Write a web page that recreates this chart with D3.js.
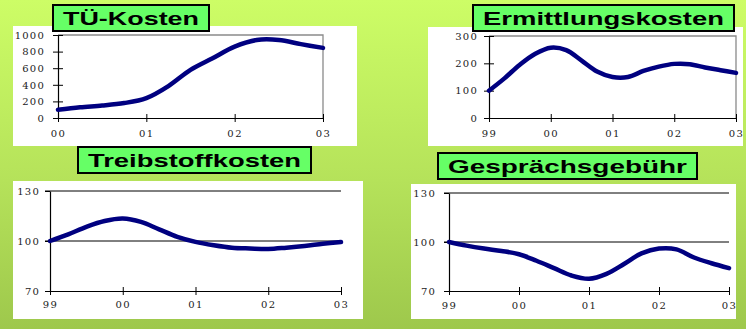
<!DOCTYPE html>
<html>
<head>
<meta charset="utf-8">
<script src="https://cdn.jsdelivr.net/npm/d3@7"></script>
<style>
  html, body { margin: 0; padding: 0; }
  svg { display: block; }
</style>
</head>
<body>
<svg id="chart" width="746" height="329"></svg>
<script>
// ---------- DATA ----------
const titles = ["TÜ-Kosten", "Ermittlungskosten", "Treibstoffkosten", "Gesprächsgebühr"];

const tuYears = ["00", "01", "02", "03"];
const tuTicks = [0, 200, 400, 600, 800, 1000];
const tuValues = [100, 130, 150, 180, 240, 385, 580, 720, 860, 940, 940, 890, 845];

const ermYears = ["99", "00", "01", "02", "03"];
const ermTicks = [0, 100, 200, 300];
const ermValues = [100, 145, 195, 235, 257, 248, 210, 170, 150, 150, 172, 188, 198, 197, 185, 175, 165];

const treibYears = ["99", "00", "01", "02", "03"];
const treibTicks = [70, 100, 130];
const treibValues = [100, 104, 108.5, 112, 113.5, 111.5, 107, 102.5, 99.5, 97.5, 96, 95.5, 95.2, 96, 97, 98.3, 99.4];

const gespYears = ["99", "00", "01", "02", "03"];
const gespTicks = [70, 100, 130];
const gespValues = [100, 97.8, 96, 94.5, 92.5, 88.5, 84, 79.5, 77.5, 80.5, 86.5, 93, 96, 95.5, 90.5, 87, 84];

// ---------- LAYOUT ----------
const svg = d3.select("#chart");
const defs = svg.append("defs");
const grad = defs.append("linearGradient").attr("id", "bg").attr("x1", 0).attr("y1", 0).attr("x2", 0).attr("y2", 1);
grad.append("stop").attr("offset", "0%").attr("stop-color", "#cdfd66");
grad.append("stop").attr("offset", "55%").attr("stop-color", "#b5e25a");
grad.append("stop").attr("offset", "100%").attr("stop-color", "#9ec84c");
svg.append("rect").attr("width", 746).attr("height", 329).attr("fill", "url(#bg)");

const panels = [
  { years: tuYears, ticks: tuTicks, values: tuValues, dom: [0, 1000],
    white: [13, 26, 357, 146], plot: [58, 35, 323, 118], boxed: true,
    title: titles[0], tbox: [52, 4, 210, 32], labelGap: 13, xLabelOff: 19 },
  { years: ermYears, ticks: ermTicks, values: ermValues, dom: [0, 300],
    white: [428, 27, 743, 146], plot: [489, 36, 736, 118], boxed: true,
    title: titles[1], tbox: [472, 4, 735, 32], labelGap: 11, xLabelOff: 19 },
  { years: treibYears, ticks: treibTicks, values: treibValues, dom: [70, 130],
    white: [13, 181, 363, 319], plot: [50, 191, 341, 291], boxed: false,
    title: titles[2], tbox: [77, 146, 312, 174], labelGap: 10, xLabelOff: 17 },
  { years: gespYears, ticks: gespTicks, values: gespValues, dom: [70, 130],
    white: [411, 184, 736, 319], plot: [449, 193, 729, 291], boxed: false,
    title: titles[3], tbox: [437, 152, 698, 180], labelGap: 13, xLabelOff: 18 }
];

const serif = "'DejaVu Serif', 'Liberation Serif', serif";

panels.forEach(p => {
  const g = svg.append("g");
  const [wx0, wy0, wx1, wy1] = p.white;
  g.append("rect").attr("x", wx0).attr("y", wy0).attr("width", wx1 - wx0).attr("height", wy1 - wy0).attr("fill", "#ffffff");

  const [px0, py0, px1, py1] = p.plot;
  const nYears = p.years.length - 1;
  const x = d3.scaleLinear().domain([0, nYears]).range([px0, px1]);
  const y = d3.scaleLinear().domain(p.dom).range([py1, py0]);

  if (p.boxed) {
    // gray plot area border top & right
    g.append("path")
      .attr("d", `M${px0},${py0}H${px1}V${py1}`)
      .attr("fill", "none").attr("stroke", "#8a8a8a").attr("stroke-width", 1.3);
  } else {
    // horizontal gridlines
    g.selectAll(".grid").data(p.ticks.filter(t => t !== p.dom[0])).enter()
      .append("line")
      .attr("x1", px0 - 5).attr("x2", px1)
      .attr("y1", d => y(d)).attr("y2", d => y(d))
      .attr("stroke", "#000").attr("stroke-width", 1);
  }

  // Y axis
  const yAxis = d3.axisLeft(y).tickValues(p.ticks).tickSize(5).tickPadding(p.labelGap - 5).tickSizeOuter(0).tickFormat(d3.format("d"));
  const ya = g.append("g").attr("transform", `translate(${px0},0)`).call(yAxis);
  ya.select(".domain").attr("stroke", "#000").attr("stroke-width", 1.2);
  ya.selectAll(".tick line").attr("stroke", "#000").attr("x2", -5).attr("x1", p.boxed ? 5 : (d => d === p.dom[0] ? 5 : 0));
  ya.selectAll(".tick text").attr("font-family", serif).attr("font-size", 10).attr("fill", "#222")
    .style("letter-spacing", "1.2px");

  // X axis
  const xAxis = d3.axisBottom(x).tickValues(d3.range(0, nYears + 1)).tickFormat(i => p.years[i])
    .tickSize(4).tickPadding(p.xLabelOff - 11).tickSizeOuter(0);
  const xa = g.append("g").attr("transform", `translate(0,${py1})`).call(xAxis);
  xa.select(".domain").attr("stroke", "#000").attr("stroke-width", 1.2);
  xa.selectAll(".tick line").attr("stroke", "#000").attr("y1", -4).attr("y2", 4);
  xa.selectAll(".tick text").attr("font-family", serif).attr("font-size", 10).attr("fill", "#222")
    .style("letter-spacing", "1.5px");

  // data line
  const line = d3.line()
    .x((d, i) => x(i / 4))
    .y(d => y(d))
    .curve(d3.curveCatmullRom.alpha(0.5));
  g.append("path").datum(p.values)
    .attr("d", line)
    .attr("fill", "none").attr("stroke", "#000080").attr("stroke-width", 4.5)
    .attr("stroke-linecap", "round").attr("stroke-linejoin", "round");

  // title box
  const [tx0, ty0, tx1, ty1] = p.tbox;
  g.append("rect").attr("x", tx0 + 1).attr("y", ty0 + 1).attr("width", tx1 - tx0 - 2).attr("height", ty1 - ty0 - 2)
    .attr("fill", "#66ff66").attr("stroke", "#000").attr("stroke-width", 2);
  g.append("text")
    .attr("x", (tx0 + tx1) / 2).attr("y", ty0 + 21)
    .attr("text-anchor", "middle")
    .attr("font-family", "'Liberation Sans', Arial, sans-serif")
    .attr("font-weight", "bold").attr("font-size", 19)
    .attr("textLength", tx1 - tx0 - 22).attr("lengthAdjust", "spacingAndGlyphs")
    .attr("fill", "#000")
    .text(p.title);
});
</script>
</body>
</html>
